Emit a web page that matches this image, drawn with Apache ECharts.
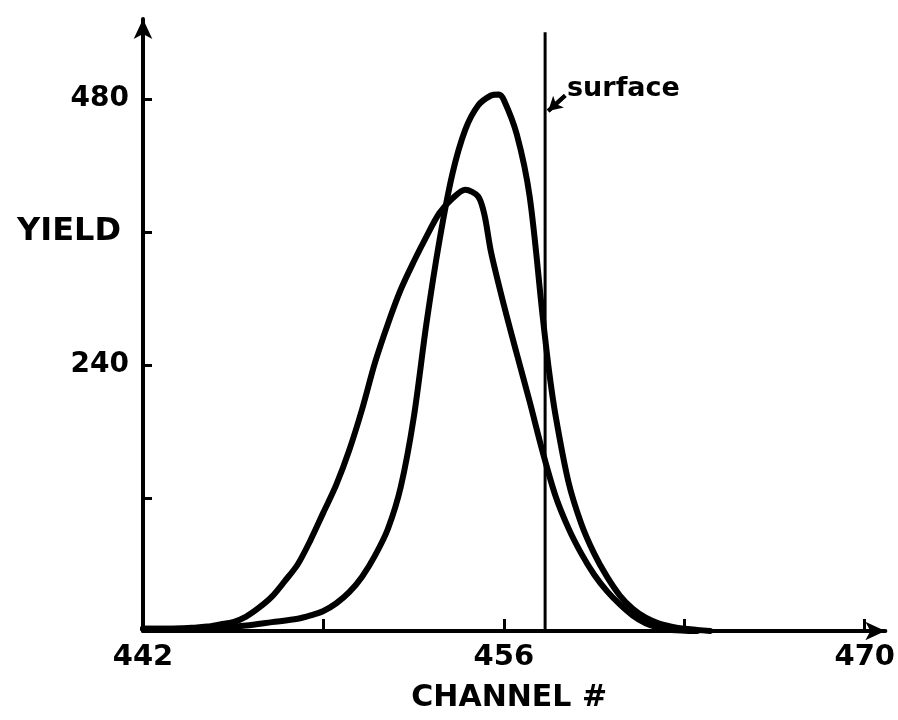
<!DOCTYPE html>
<html>
<head>
<meta charset="utf-8">
<title>Yield vs Channel</title>
<script src="https://cdn.jsdelivr.net/npm/echarts@6/dist/echarts.min.js"></script>
<style>
  html, body { margin: 0; padding: 0; background: #fff; }
  #chart { width: 898px; height: 720px; }
</style>
</head>
<body>
<div id="chart"></div>
<script>
// Narrow, tall spectrum: [channel, yield]
const narrowPeak = [
  [442, 2], [443, 2], [444, 2], [445, 3], [446, 5], [447, 8], [448, 11],
  [448.5, 14], [449, 18], [449.5, 25], [450, 35], [450.5, 49], [451, 68],
  [451.5, 92], [452, 130], [452.5, 192], [453, 278], [453.5, 352],
  [454, 412], [454.5, 452], [455, 474], [455.5, 483], [455.8, 484],
  [456, 479], [456.5, 448], [457, 392], [457.5, 285], [457.75, 235],
  [458, 195], [458.5, 135], [459, 97], [459.5, 70], [460, 49], [460.5, 32],
  [461, 20], [461.5, 12], [462, 7], [462.5, 4], [463, 2], [463.5, 1], [464, 0]
];

// Broad, lower spectrum: [channel, yield]
const broadPeak = [
  [442, 2], [443, 2], [444, 3], [444.5, 4], [445, 6], [445.5, 8], [446, 13],
  [446.5, 21], [447, 31], [447.5, 45], [448, 60], [448.5, 82], [449, 107],
  [449.5, 132], [450, 163], [450.5, 200], [451, 242], [451.5, 277],
  [452, 308], [452.5, 333], [453, 356], [453.5, 377], [454, 390],
  [454.5, 398], [455, 392], [455.25, 375], [455.5, 342], [456, 294],
  [456.5, 250], [457, 207], [457.5, 162], [458, 122], [458.5, 93],
  [459, 70], [459.5, 51], [460, 36], [460.5, 24], [461, 14], [461.5, 7],
  [462, 3], [462.5, 1], [463.5, 0]
];

// Surface position marker
const surfaceChannel = 457.6;
const surfaceLine = [[surfaceChannel, 0], [surfaceChannel, 540]];
const surfaceText = 'surface';
const surfaceLabelAt = [458.45, 489];
const surfaceArrow = [[458.38, 483], [457.72, 469]];

// Axis ticks and labels
const xLabelValues = [442, 456, 470];
const xTickValues = [449, 456, 463, 470];
const yTickValues = [120, 240, 360, 480];
const yLabelValues = [240, 360, 480];
const yLabelText = { 240: '240', 360: 'YIELD', 480: '480' };

const FONT = 'DejaVu Sans';
const INK = '#000';

const chart = echarts.init(document.getElementById('chart'), null, { renderer: 'canvas' });

const curveStyle = {
  type: 'line',
  smooth: 0.3,
  showSymbol: false,
  lineStyle: { color: INK, width: 6, join: 'round', cap: 'round' },
  z: 3
};

chart.setOption({
  backgroundColor: '#fff',
  animation: false,
  grid: { left: 143, right: 10, top: 19, bottom: 89, containLabel: false },
  xAxis: {
    type: 'value',
    min: 442,
    max: 470.8,
    name: 'CHANNEL #',
    nameLocation: 'middle',
    nameGap: 52,
    nameTextStyle: { fontFamily: FONT, fontWeight: 'bold', fontSize: 30, color: INK, padding: [0, 10, 0, 0] },
    axisLine: {
      show: true,
      symbol: ['none', 'arrow'],
      symbolSize: [14, 20],
      lineStyle: { color: INK, width: 4 }
    },
    axisTick: {
      show: true,
      inside: true,
      length: 12,
      customValues: xTickValues,
      lineStyle: { color: INK, width: 3 }
    },
    axisLabel: {
      show: true,
      margin: 12,
      customValues: xLabelValues,
      fontFamily: FONT,
      fontWeight: 'bold',
      fontSize: 29,
      color: INK
    },
    splitLine: { show: false }
  },
  yAxis: {
    type: 'value',
    min: 0,
    max: 552,
    axisLine: {
      show: true,
      symbol: ['none', 'arrow'],
      symbolSize: [14, 20],
      lineStyle: { color: INK, width: 4 }
    },
    axisTick: {
      show: true,
      inside: true,
      length: 9,
      customValues: yTickValues,
      lineStyle: { color: INK, width: 3 }
    },
    axisLabel: {
      show: true,
      margin: 14,
      customValues: yLabelValues,
      fontFamily: FONT,
      fontWeight: 'bold',
      fontSize: 28,
      color: INK,
      formatter: function (v) {
        const t = yLabelText[v];
        if (t === 'YIELD') return '{y|YIELD}';
        return t || '';
      },
      rich: {
        y: { fontFamily: FONT, fontWeight: 'bold', fontSize: 32, color: INK, padding: [0, 8, 0, 0] }
      }
    },
    splitLine: { show: false }
  },
  series: [
    Object.assign({ name: 'narrow', data: narrowPeak }, curveStyle),
    Object.assign({ name: 'broad', data: broadPeak }, curveStyle),
    {
      name: 'surface',
      type: 'line',
      data: surfaceLine,
      showSymbol: false,
      lineStyle: { color: INK, width: 3 },
      z: 2
    },
    {
      name: 'surfaceArrow',
      type: 'line',
      data: surfaceArrow,
      showSymbol: false,
      lineStyle: { color: INK, width: 4 },
      markLine: {
        silent: true,
        symbol: ['none', 'arrow'],
        symbolSize: [12, 14],
        label: { show: false },
        lineStyle: { color: INK, width: 4, type: 'solid' },
        data: [[{ coord: surfaceArrow[0] }, { coord: surfaceArrow[1] }]]
      },
      z: 4
    },
    {
      name: 'surfaceLabel',
      type: 'scatter',
      data: [surfaceLabelAt],
      symbolSize: 0,
      itemStyle: { color: INK, opacity: 1 },
      label: {
        show: true,
        position: 'right',
        distance: 0,
        formatter: surfaceText,
        fontFamily: FONT,
        fontWeight: 'bold',
        fontSize: 27,
        color: INK,
        opacity: 1
      },
      z: 4
    }
  ]
});
</script>
</body>
</html>
